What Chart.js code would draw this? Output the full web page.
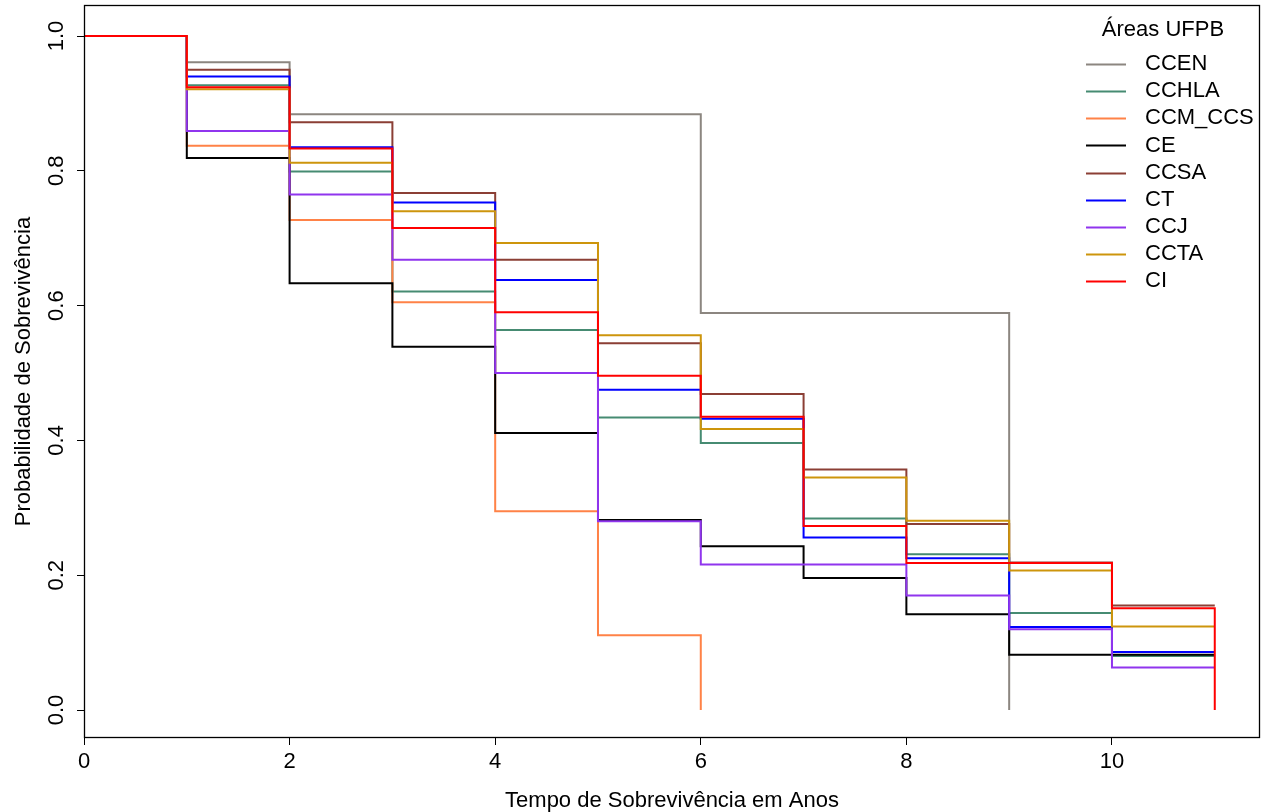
<!DOCTYPE html>
<html><head><meta charset="utf-8">
<script src="https://cdn.jsdelivr.net/npm/chart.js@4.4.1/dist/chart.umd.min.js"></script>
<style>html,body{margin:0;padding:0;background:#fff;}#wrap{width:1266px;height:812px;}</style>
</head><body><div id="wrap"><canvas id="c" width="1266" height="812"></canvas></div>
<script>
// Time points (years)
const times = [0,1,2,3,4,5,6,7,8,9,10,11];
// Survival probability per area, value holding from each time point on
const CCEN    = [1,0.961,0.884,0.884,0.884,0.884,0.589,0.589,0.589,0];
const CCHLA   = [1,0.927,0.799,0.621,0.564,0.434,0.396,0.284,0.231,0.144,0.080,0.080];
const CCM_CCS = [1,0.837,0.727,0.605,0.295,0.111,0];
const CE      = [1,0.819,0.633,0.539,0.411,0.282,0.243,0.196,0.142,0.082,0.082,0.082];
const CCSA    = [1,0.950,0.872,0.767,0.668,0.544,0.469,0.357,0.276,0.219,0.155,0.155];
const CT      = [1,0.940,0.835,0.753,0.638,0.475,0.432,0.256,0.225,0.123,0.086,0.086];
const CCJ     = [1,0.859,0.765,0.668,0.500,0.280,0.216,0.216,0.170,0.120,0.063,0.063];
const CCTA    = [1,0.921,0.812,0.740,0.693,0.556,0.417,0.345,0.281,0.207,0.124,0.124];
const CI      = [1,0.924,0.833,0.715,0.590,0.496,0.435,0.273,0.218,0.218,0.151,0];
const seriesNames = ["CCEN","CCHLA","CCM_CCS","CE","CCSA","CT","CCJ","CCTA","CI"];
const seriesValues = [CCEN,CCHLA,CCM_CCS,CE,CCSA,CT,CCJ,CCTA,CI];
const seriesColors = ["#8c8680","#468b72","#ff8247","#000000","#8b3f35","#0000ff","#9035ee","#cd950c","#ff0000"];
const xTicks = [0,2,4,6,8,10];
const yTicks = [0,0.2,0.4,0.6,0.8,1.0];
const legendTitle = "Áreas UFPB";
const xTitle = "Tempo de Sobrevivência em Anos";
const yTitle = "Probabilidade de Sobrevivência";

const FONT = "'Liberation Sans', Arial, Helvetica, sans-serif";

const datasets = seriesNames.map((name, k) => ({
  label: name,
  data: seriesValues[k].map((v, i) => ({x: times[i], y: v})),
  borderColor: seriesColors[k],
  backgroundColor: seriesColors[k],
  borderWidth: 2,
  pointRadius: 0,
  stepped: 'before',
  fill: false,
  order: seriesNames.length - k   // later series drawn on top, as in the original
}));

const boxPlugin = {
  id: 'box',
  afterDraw(chart) {
    const {ctx, chartArea: a} = chart;
    ctx.save();
    ctx.strokeStyle = '#000';
    ctx.lineWidth = 1.3;
    ctx.strokeRect(Math.round(a.left) + 0.5, Math.round(a.top) + 0.5, Math.round(a.right - a.left) - 1, Math.round(a.bottom - a.top) - 1);
    // legend
    ctx.font = '22px ' + FONT;
    ctx.fillStyle = '#000';
    ctx.textBaseline = 'middle';
    ctx.textAlign = 'center';
    ctx.fillText(legendTitle, 1163, 30);
    ctx.textAlign = 'left';
    chart.data.datasets.forEach((ds, i) => {
      const y = 64 + i * 27.15;
      ctx.strokeStyle = ds.borderColor;
      ctx.lineWidth = 2;
      ctx.beginPath();
      ctx.moveTo(1086, Math.round(y) + 0.5);
      ctx.lineTo(1126, Math.round(y) + 0.5);
      ctx.stroke();
      ctx.fillText(ds.label, 1145, y);
    });
    ctx.restore();
  }
};

new Chart(document.getElementById('c'), {
  type: 'line',
  data: {datasets},
  plugins: [boxPlugin],
  options: {
    responsive: false,
    animation: false,
    devicePixelRatio: 1,
    layout: {padding: {left: 0, right: 6, top: 5, bottom: 0}},
    plugins: {legend: {display: false}, tooltip: {enabled: false}},
    scales: {
      x: {
        type: 'linear',
        min: 0, max: 11.44,
        afterBuildTicks: s => { s.ticks = xTicks.map(v => ({value: v})); },
        afterFit: s => { s.height = 74; s.paddingLeft = 0; s.paddingRight = 0; },
        grid: {display: true, drawOnChartArea: false, drawTicks: true, tickLength: 7, color: '#000', lineWidth: 1},
        border: {display: false},
        ticks: {color: '#000', font: {family: FONT, size: 22}, padding: 4, maxRotation: 0, autoSkip: false,
                callback: v => String(v)},
        title: {display: true, text: xTitle, color: '#000', font: {family: FONT, size: 22, lineHeight: 1.0}, padding: {top: 0, bottom: 0}}
      },
      y: {
        type: 'linear',
        min: -0.0415, max: 1.046,
        afterBuildTicks: s => { s.ticks = yTicks.map(v => ({value: v})); },
        afterFit: s => { s.width = 84; s.paddingTop = 0; s.paddingBottom = 0; },
        grid: {display: true, drawOnChartArea: false, drawTicks: true, tickLength: 7, color: '#000', lineWidth: 1},
        border: {display: false},
        ticks: {color: '#000', font: {family: FONT, size: 22}, padding: 5, minRotation: 90, maxRotation: 90,
                crossAlign: 'center', autoSkip: false, callback: v => Number(v).toFixed(1)},
        title: {display: true, text: yTitle, color: '#000', font: {family: FONT, size: 22, lineHeight: 1.2}, padding: {top: 11, bottom: 0}}
      }
    }
  }
});
</script></body></html>
